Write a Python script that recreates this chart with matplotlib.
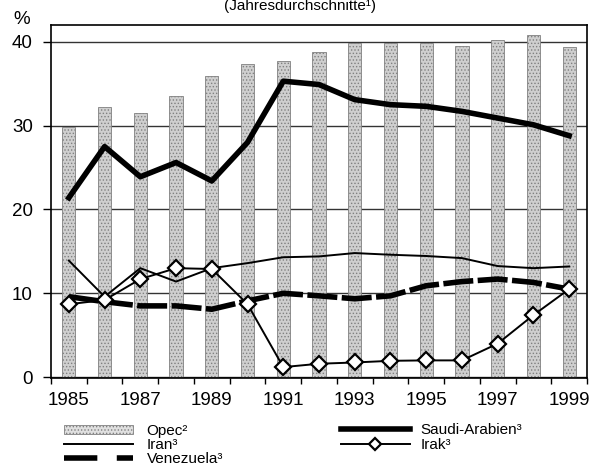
import numpy as np
import matplotlib.pyplot as plt
from matplotlib.lines import Line2D
from matplotlib.patches import Patch

plt.rcParams['font.family'] = ['Liberation Sans', 'DejaVu Sans']

years = list(range(1985, 2000))
opec = [29.8, 32.2, 31.5, 33.5, 35.9, 37.3, 37.7, 38.8, 39.9, 39.8, 39.8, 39.5, 40.2, 40.8, 39.4]
saudi = [21.4, 27.5, 23.9, 25.6, 23.4, 28.0, 35.3, 34.9, 33.1, 32.5, 32.3, 31.7, 30.9, 30.1, 28.8]
iran = [13.9, 9.6, 13.0, 11.4, 13.0, 13.6, 14.3, 14.4, 14.8, 14.6, 14.45, 14.2, 13.25, 13.0, 13.2]
venezuela = [9.6, 9.0, 8.5, 8.5, 8.1, 9.1, 10.0, 9.7, 9.35, 9.7, 10.9, 11.4, 11.7, 11.3, 10.5]
irak = [8.7, 9.2, 11.7, 13.0, 12.9, 8.7, 1.2, 1.6, 1.75, 1.95, 2.0, 2.0, 4.0, 7.4, 10.5]
yticks = [0, 10, 20, 30, 40]

title = '(Jahresdurchschnitte¹)'
labels = ['Opec²', 'Iran³', 'Venezuela³', 'Saudi-Arabien³', 'Irak³']

fig = plt.figure(figsize=(6.01, 4.66), dpi=100)
ax = fig.add_axes([51 / 601, 1 - 378 / 466, 536 / 601, 353 / 466])

x = np.arange(len(years))

# Opec bars (stippled grey)
plt.rcParams['hatch.linewidth'] = 0.6
ax.bar(x, opec, width=0.37, facecolor='#cfcfcf', edgecolor='#808080',
       hatch='.....', linewidth=0.6, zorder=2)

# lines
ax.plot(x, saudi, color='black', lw=4, solid_joinstyle='round', zorder=4)
ax.plot(x, iran, color='black', lw=1.4, zorder=4)
ax.plot(x, venezuela, color='black', lw=4, dashes=(5.4, 0.8), zorder=4)
ax.plot(x, irak, color='black', lw=1.4, marker='D', markersize=8,
        markerfacecolor='white', markeredgecolor='black', markeredgewidth=1.6, zorder=5)

ax.set_xlim(-0.5, len(years) - 0.5)
ax.set_ylim(-0.1, 42.0)

# boundary ticks without labels, labels on every second year
ax.set_xticks(np.arange(-0.5, len(years), 1.0))
ax.set_xticklabels([])
ax.set_xticks(x[::2], minor=True)
ax.set_xticklabels([str(y) for y in years[::2]], minor=True, fontsize=13.5)
ax.tick_params(axis='x', which='major', length=4, width=1, direction='out')
ax.tick_params(axis='x', which='minor', length=0, pad=10)

ax.set_yticks(yticks)
ax.set_yticklabels([str(v) for v in yticks], fontsize=13.5)
ax.tick_params(axis='y', length=6, width=1, pad=7)

ax.grid(axis='y', color='#333333', lw=1.0, zorder=1)
ax.set_axisbelow(True)
for s in ax.spines.values():
    s.set_linewidth(1.2)

fig.text(22 / 601, 1 - 19 / 466, '%', fontsize=13.5, ha='center', va='center')
fig.text(300 / 601, 1 - 10 / 466, title, fontsize=11, ha='center', va='baseline')

# legends
h_opec = Patch(facecolor='#e0e0e0', edgecolor='#808080', hatch='.....', lw=0.6)
h_iran = Line2D([], [], color='black', lw=1.4)
h_ven = Line2D([], [], color='black', lw=4, dashes=(6, 3.5))
h_saudi = Line2D([], [], color='black', lw=4)
h_irak = Line2D([], [], color='black', lw=1.4, marker='D', markersize=6,
                markerfacecolor='white', markeredgecolor='black', markeredgewidth=1.6)

fig.legend([h_opec, h_iran, h_ven], labels[:3], loc='center left',
           bbox_to_anchor=(64 / 601, 1 - 445 / 466), frameon=False, fontsize=11,
           borderpad=0, borderaxespad=0, handlelength=4.5, handleheight=0.45,
           handletextpad=0.9, labelspacing=0.0)
fig.legend([h_saudi, h_irak], labels[3:], loc='center left',
           bbox_to_anchor=(341 / 601, 1 - 437.5 / 466), frameon=False, fontsize=11,
           borderpad=0, borderaxespad=0, handlelength=4.5, handleheight=0.45,
           handletextpad=0.7, labelspacing=0.1)

fig.savefig('out.png', dpi=100)
